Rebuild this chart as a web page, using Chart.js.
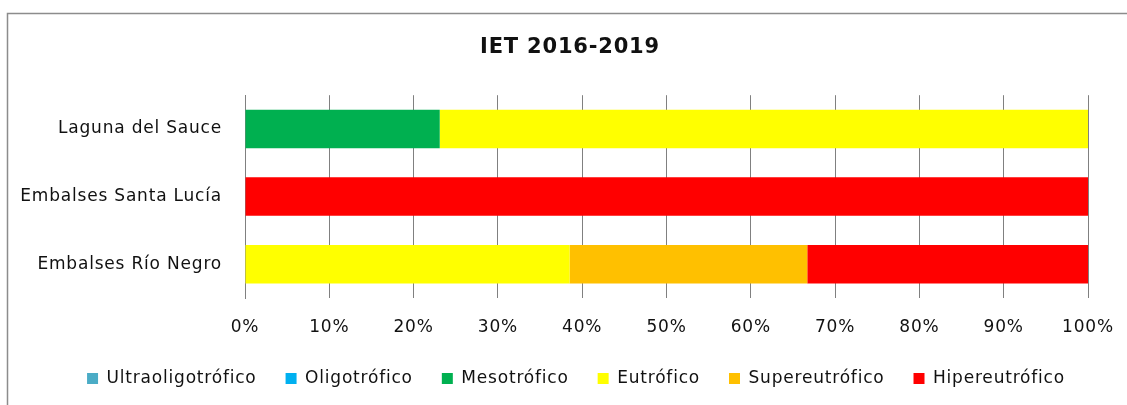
<!DOCTYPE html>
<html>
<head>
<meta charset="utf-8">
<script src="https://cdn.jsdelivr.net/npm/chart.js@4"></script>
<style>
  html, body { margin: 0; padding: 0; background: #ffffff; }
  #wrap { width: 1127px; height: 405px; position: relative; }
</style>
</head>
<body>
<div id="wrap"><canvas id="c" width="1127" height="405"></canvas></div>
<script>
const categories = ["Laguna del Sauce", "Embalses Santa Lucía", "Embalses Río Negro"];
const seriesNames = ["Ultraoligotrófico", "Oligotrófico", "Mesotrófico", "Eutrófico", "Supereutrófico", "Hipereutrófico"];
const ultraoligotrofico = [0, 0, 0];
const oligotrofico = [0, 0, 0];
const mesotrofico = [23.1, 0, 0];
const eutrofico = [76.9, 0, 38.5];
const supereutrofico = [0, 0, 28.2];
const hipereutrofico = [0, 100, 33.3];
const xTicks = [0, 10, 20, 30, 40, 50, 60, 70, 80, 90, 100];
const titleText = "IET 2016-2019";

const colors = ["#4BACC6", "#00B0F0", "#00B050", "#FFFF00", "#FFC000", "#FF0000"];
const values = [ultraoligotrofico, oligotrofico, mesotrofico, eutrofico, supereutrofico, hipereutrofico];

const SPACING = '0.8px';
const spacing = {
  id: 'spacing',
  beforeUpdate(chart) { chart.ctx.letterSpacing = SPACING; },
  beforeLayout(chart) { chart.ctx.letterSpacing = SPACING; },
  afterLayout(chart) {
    // shift title and legend to match the reference placement
    if (chart.titleBlock) { chart.titleBlock.left += 22; chart.titleBlock.right += 22; }
    if (chart.legend) {
      chart.legend.left += 28; chart.legend.right += 28;
      chart.legend.top -= 8; chart.legend.bottom -= 8;
    }
  },
  beforeDraw(chart) { chart.ctx.letterSpacing = SPACING; }
};

const frame = {
  id: 'frame',
  beforeDraw(chart) {
    const ctx = chart.ctx;
    ctx.save();
    ctx.strokeStyle = '#8c8c8c';
    ctx.lineWidth = 1.5;
    ctx.beginPath();
    ctx.moveTo(7.5, 405);
    ctx.lineTo(7.5, 13.5);
    ctx.lineTo(1127, 13.5);
    ctx.stroke();
    ctx.restore();
  }
};

const FONT = "'DejaVu Sans', sans-serif";
const TXT = '#111111';

new Chart(document.getElementById('c'), {
  type: 'bar',
  data: {
    labels: categories,
    datasets: seriesNames.map((n, i) => ({
      label: n,
      data: values[i],
      backgroundColor: colors[i],
      borderWidth: 0,
      barPercentage: 0.57,
      categoryPercentage: 1.0
    }))
  },
  options: {
    indexAxis: 'y',
    responsive: false,
    animation: false,
    devicePixelRatio: 1,
    layout: { padding: { left: 8, right: 39, top: 0, bottom: 0 } },
    plugins: {
      title: {
        display: true,
        text: titleText,
        color: TXT,
        font: { family: FONT, size: 21, weight: 'bold', lineHeight: 1.2 },
        padding: { top: 35, bottom: 35 }
      },
      legend: {
        display: true,
        position: 'bottom',
        labels: {
          color: TXT,
          font: { family: FONT, size: 17 },
          boxWidth: 11,
          boxHeight: 11,
          padding: 29
        }
      },
      tooltip: { enabled: false }
    },
    scales: {
      x: {
        stacked: true,
        min: 0,
        max: 100,
        afterBuildTicks(scale) { scale.ticks = xTicks.map(v => ({ value: v })); },
        afterFit(scale) { scale.height = 51; scale.paddingLeft = 0; scale.paddingRight = 0; },
        grid: { color: '#808080', lineWidth: 1, drawTicks: false },
        border: { display: false },
        ticks: {
          color: TXT,
          font: { family: FONT, size: 17 },
          padding: 19,
          maxRotation: 0,
          callback: v => v + '%'
        }
      },
      y: {
        stacked: true,
        afterFit(scale) { scale.width = 237; },
        grid: { display: false, drawTicks: false },
        border: { display: true, color: '#808080', width: 1 },
        ticks: {
          color: TXT,
          font: { family: FONT, size: 17 },
          padding: 23
        }
      }
    }
  },
  plugins: [spacing, frame]
});
</script>
</body>
</html>
